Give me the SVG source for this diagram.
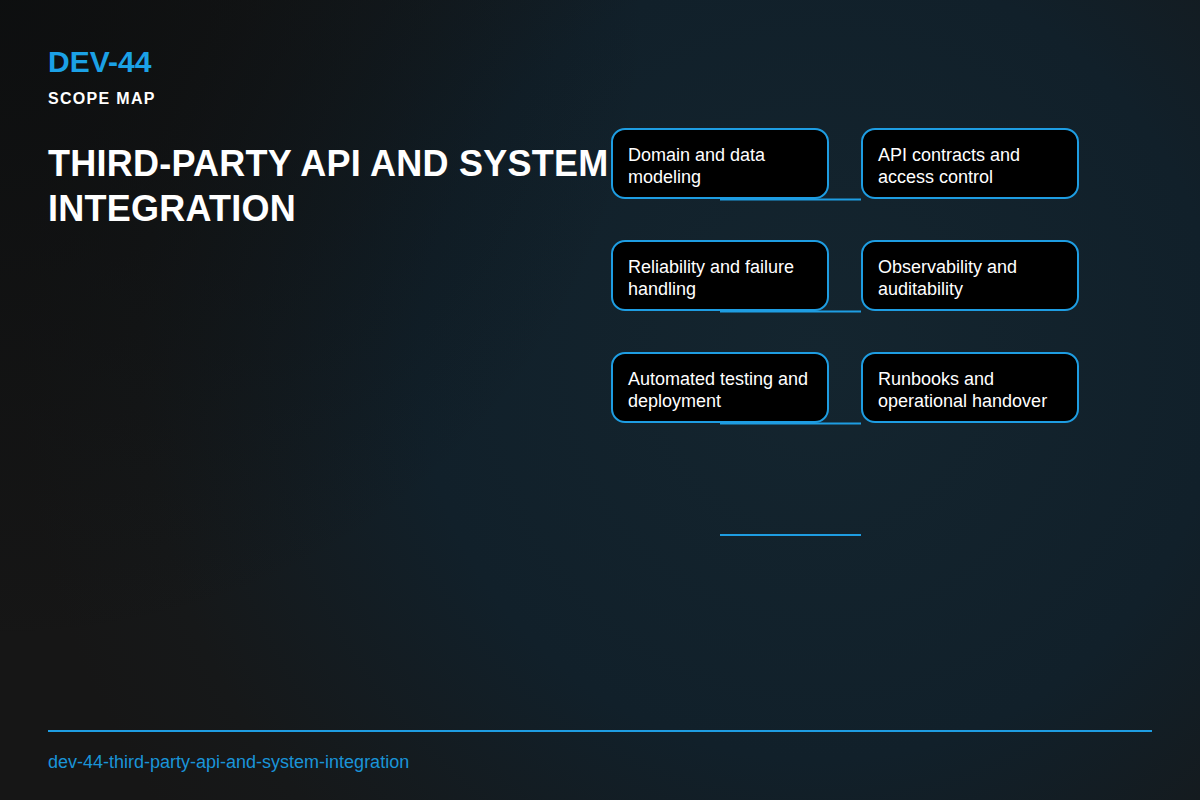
<svg xmlns="http://www.w3.org/2000/svg" width="1200" height="800" viewBox="0 0 1200 800">
  <defs>
    <radialGradient id="bg" cx="820" cy="360" r="800" gradientUnits="userSpaceOnUse">
      <stop offset="0" stop-color="#14252f"/>
      <stop offset="0.5" stop-color="#11202a"/>
      <stop offset="0.85" stop-color="#161819"/>
      <stop offset="1" stop-color="#161616"/>
    </radialGradient>
    <radialGradient id="tl" cx="0" cy="0" r="650" gradientUnits="userSpaceOnUse">
      <stop offset="0" stop-color="#0b0d0e" stop-opacity="0.8"/>
      <stop offset="1" stop-color="#0b0d0e" stop-opacity="0"/>
    </radialGradient>
    <style>
      .node rect { fill: #000000; stroke: #1e9de2; stroke-width: 2; }
      .node text { fill: #ffffff; font-family: "Liberation Sans", Arial, sans-serif; font-size: 18px; }
      .conn line { stroke: #1e9de2; stroke-width: 2; }
      .sans { font-family: "Liberation Sans", Arial, sans-serif; }
    </style>
  </defs>
  <rect width="1200" height="800" fill="url(#bg)"/>
  <rect width="1200" height="800" fill="url(#tl)"/>

  <g id="header">
    <text x="48" y="72" class="sans" font-size="30" font-weight="bold" fill="#1ba1e6">DEV-44</text>
    <text x="48" y="104" class="sans" font-size="16" font-weight="bold" fill="#ffffff" letter-spacing="1.3">SCOPE MAP</text>
    <text class="sans" font-size="36" font-weight="bold" fill="#ffffff" letter-spacing="0.25">
      <tspan x="48" y="176">THIRD-PARTY API AND SYSTEM</tspan>
      <tspan x="48" y="221">INTEGRATION</tspan>
    </text>
  </g>

  <g id="node-domain" class="node">
    <rect x="612" y="129" width="216" height="69" rx="13"/>
    <text><tspan x="628" y="161">Domain and data</tspan><tspan x="628" y="183">modeling</tspan></text>
  </g>
  <g id="node-api" class="node">
    <rect x="862" y="129" width="216" height="69" rx="13"/>
    <text><tspan x="878" y="161">API contracts and</tspan><tspan x="878" y="183">access control</tspan></text>
  </g>
  <g id="node-reliability" class="node">
    <rect x="612" y="241" width="216" height="69" rx="13"/>
    <text><tspan x="628" y="273">Reliability and failure</tspan><tspan x="628" y="295">handling</tspan></text>
  </g>
  <g id="node-observability" class="node">
    <rect x="862" y="241" width="216" height="69" rx="13"/>
    <text><tspan x="878" y="273">Observability and</tspan><tspan x="878" y="295">auditability</tspan></text>
  </g>
  <g id="node-testing" class="node">
    <rect x="612" y="353" width="216" height="69" rx="13"/>
    <text><tspan x="628" y="385">Automated testing and</tspan><tspan x="628" y="407">deployment</tspan></text>
  </g>
  <g id="node-runbooks" class="node">
    <rect x="862" y="353" width="216" height="69" rx="13"/>
    <text><tspan x="878" y="385">Runbooks and</tspan><tspan x="878" y="407">operational handover</tspan></text>
  </g>

  <g id="connectors" class="conn">
    <line x1="720" y1="199.5" x2="861" y2="199.5"/>
    <line x1="720" y1="311.5" x2="861" y2="311.5"/>
    <line x1="720" y1="423.5" x2="861" y2="423.5"/>
    <line x1="720" y1="535" x2="861" y2="535"/>
  </g>

  <g id="footer">
    <line x1="48" y1="731" x2="1152" y2="731" stroke="#1e9de2" stroke-width="2"/>
    <text x="48" y="768" class="sans" font-size="18" fill="#1a94d8">dev-44-third-party-api-and-system-integration</text>
  </g>
</svg>
